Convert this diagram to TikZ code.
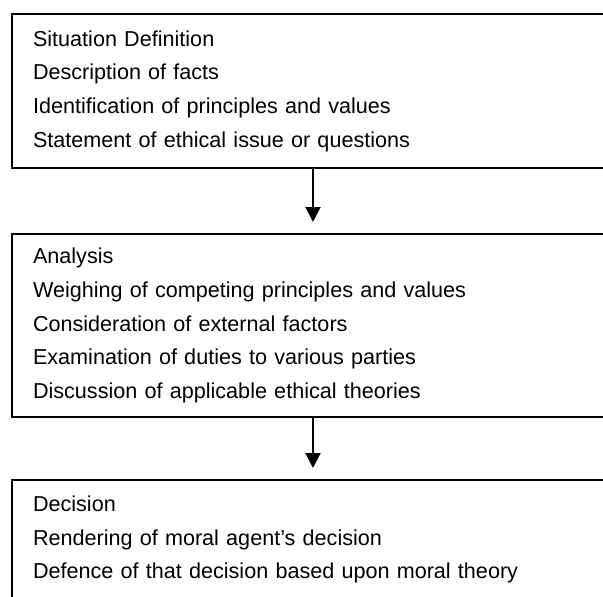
\documentclass[tikz,border=0pt]{standalone}
\usepackage{fontspec}
\setmainfont{Liberation Sans}
\usetikzlibrary{arrows.meta}
\usetikzlibrary{positioning}
\tikzset{>={Triangle[width=15pt,length=15pt]}}
\tikzset{stagebox/.style={draw, line width=2pt, rectangle, align=left,
    text width=598pt, inner xsep=21pt, inner ysep=0pt,
    font=\fontsize{21.6}{33.7}\selectfont}}

\begin{document}
\begin{tikzpicture}

  \useasboundingbox (0,0) rectangle (603pt,-597pt);
  \clip (0,0) rectangle (603pt,-597pt);

  \node[stagebox, anchor=north west, minimum height=154pt] (situation) at (11pt,-13pt)
    {Situation Definition\\
     Description of facts\\
     Identification of principles and values\\
     Statement of ethical issue or questions};

  \node[stagebox, minimum height=183pt, below=64pt of situation.south west, anchor=north west] (analysis)
    {Analysis\\
     Weighing of competing principles and values\\
     Consideration of external factors\\
     Examination of duties to various parties\\
     Discussion of applicable ethical theories};

  \node[stagebox, minimum height=119pt, below=61pt of analysis.south west, anchor=north west] (decision)
    {Decision\\
     Rendering of moral agent's decision\\
     Defence of that decision based upon moral theory};

  \draw[line width=2pt, ->, shorten >=11pt] ([xshift=302pt]situation.south west) -- ([xshift=302pt]analysis.north west);
  \draw[line width=2pt, ->, shorten >=11pt] ([xshift=302pt]analysis.south west) -- ([xshift=302pt]decision.north west);

\end{tikzpicture}
\end{document}
